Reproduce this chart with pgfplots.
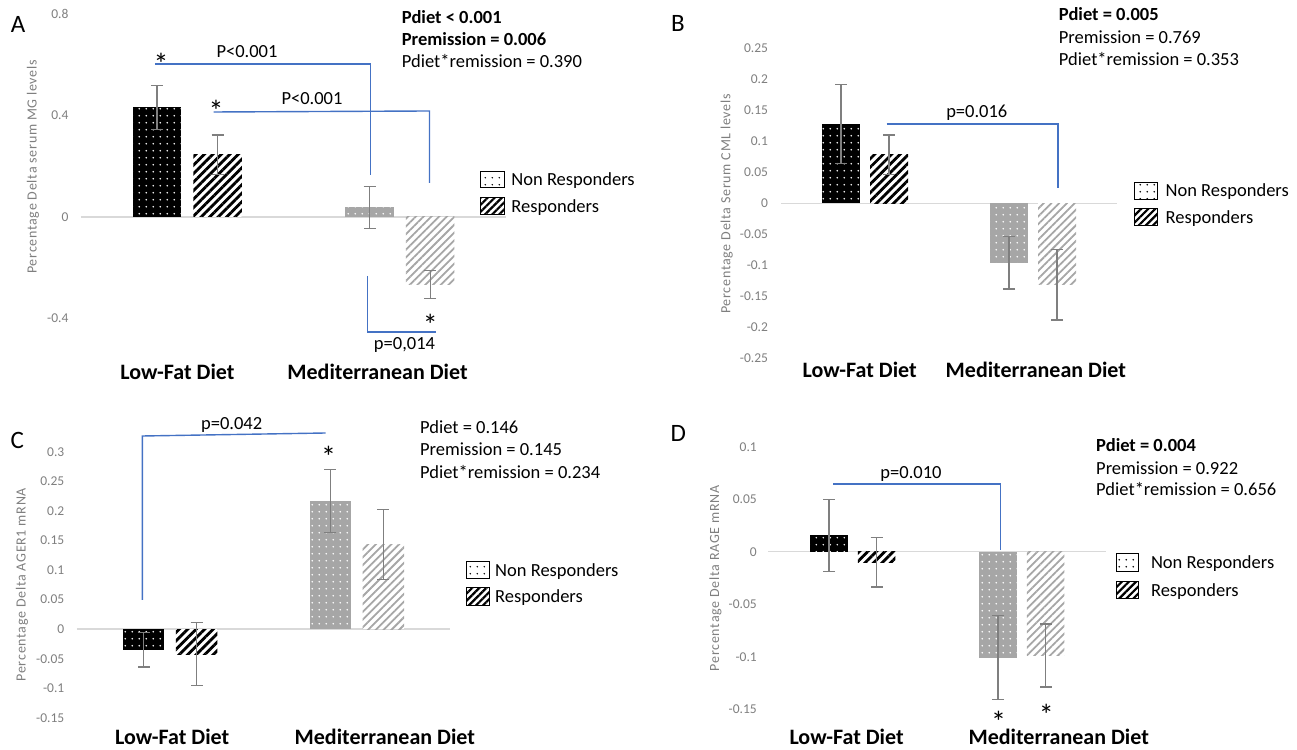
\documentclass[border=0pt]{standalone}
\usepackage{fontspec}
\setmainfont{Carlito}
\newfontfamily\ylabfont[LetterSpace=5]{Carlito}
\usepackage{pgfplots}
\pgfplotsset{compat=1.18}
\usetikzlibrary{patterns.meta}

\definecolor{bblue}{HTML}{4472C4}
\definecolor{bgray}{HTML}{A6A6A6}
\definecolor{tgray}{HTML}{7F7F7F}
\definecolor{zgray}{HTML}{D9D9D9}
\definecolor{egray}{HTML}{7F7F7F}

\tikzdeclarepattern{
  name=sdots,
  type=uncolored,
  bottom left={(0pt,0pt)},
  top right={(7.2pt,7.2pt)},
  tile size={(7.2pt,7.2pt)},
  code={\fill (3.6pt,3.6pt) circle (0.9pt);}
}

\pgfplotsset{
  panel/.style={
    scale only axis, anchor=south west, clip=false,
    axis line style={draw=none}, tick style={draw=none},
    xmin=-0.5, xmax=1.5,
    xticklabels={Low-Fat Diet, Mediterranean Diet},
    xticklabel style={anchor=base, inner sep=0pt, font=\fontsize{22}{24}\selectfont\bfseries},
    scaled y ticks=false,
    yticklabel style={font=\fontsize{13.5}{15}\selectfont, text=tgray,
      /pgf/number format/assume math mode=true,
      /pgf/number format/fixed, /pgf/number format/precision=2},
    ylabel style={font=\ylabfont\fontsize{14}{16}\selectfont, text=tgray, anchor=center},
  },
  eb/.style={
    /pgfplots/error bars/y dir=both,
    /pgfplots/error bars/y explicit,
    /pgfplots/error bars/error bar style={draw=egray, line width=1.3pt},
    /pgfplots/error bars/error mark options={rotate=90, draw=egray, mark size=6pt, line width=1.3pt},
  },
  lfnr/.style={ybar, bar shift=0pt, fill=black, draw=none, postaction={pattern=sdots, pattern color=white}},
  lfr/.style={ybar, bar shift=0pt, fill=white, draw=none, postaction={pattern={Lines[angle=45,distance=6pt,line width=2.8pt]}, pattern color=black}},
  mnr/.style={ybar, bar shift=0pt, fill=bgray, draw=none, postaction={pattern=sdots, pattern color=white}},
  mr/.style={ybar, bar shift=0pt, fill=white, draw=none, postaction={pattern={Lines[angle=45,distance=5.5pt,line width=1.8pt]}, pattern color=bgray}},
  zl/.style={zgray, line width=1.5pt, mark=none},
}

\begin{document}
\begin{tikzpicture}[x=1pt, y=1pt]
\useasboundingbox (0pt,0pt) rectangle (1297pt,749pt);

% ---------------- Panel A ----------------
\begin{axis}[panel, at={(80.9pt,369pt)}, width=425.3pt, height=370pt,
  ymin=-0.6424, ymax=0.8158, ytick={-0.4,0,0.4,0.8},
  xtick={-0.046,0.895},
  yticklabel style={xshift=-9pt},
  ylabel={Percentage Delta serum MG levels},
  ylabel style={at={(rel axis cs:-0.1126,0.576)}}]
\addplot[zl] coordinates {(-0.5,0) (1.5,0)};
\addplot[lfnr, bar width=48.5pt, eb] coordinates {(-0.1425,0.432) +- (0,0.086)};
\addplot[lfr,  bar width=48.5pt, eb] coordinates {(0.1425,0.245) +- (0,0.078)};
\addplot[mnr,  bar width=48.5pt, eb] coordinates {(0.8575,0.038) +- (0,0.083)};
\addplot[mr,   bar width=48.5pt, eb] coordinates {(1.1425,-0.267) +- (0,0.055)};
\end{axis}

% ---------------- Panel B ----------------
\begin{axis}[panel, at={(781pt,371.9pt)}, width=336pt, height=337.1pt,
  ymin=-0.2803, ymax=0.2634,
  ytick={-0.25,-0.2,-0.15,-0.1,-0.05,0,0.05,0.1,0.15,0.2,0.25},
  xtick={-0.032,1.017},
  yticklabel style={xshift=-9.5pt},
  ylabel={Percentage Delta Serum CML levels},
  ylabel style={at={(rel axis cs:-0.1613,0.5135)}}]
\addplot[zl] coordinates {(-0.5,0) (1.5,0)};
\addplot[lfnr, bar width=38pt, eb] coordinates {(-0.1429,0.128) +- (0,0.064)};
\addplot[lfr,  bar width=38pt, eb] coordinates {(0.1429,0.078) +- (0,0.032)};
\addplot[mnr,  bar width=38pt, eb] coordinates {(0.8571,-0.096) +- (0,0.042)};
\addplot[mr,   bar width=38pt, eb] coordinates {(1.1429,-0.131) +- (0,0.057)};
\end{axis}

% ---------------- Panel C ----------------
\begin{axis}[panel, at={(76.8pt,4.9pt)}, width=373.4pt, height=314.1pt,
  ymin=-0.1944, ymax=0.3371,
  ytick={-0.15,-0.1,-0.05,0,0.05,0.1,0.15,0.2,0.25,0.3},
  xtick={0.011,1.150},
  yticklabel style={xshift=-9pt},
  ylabel={Percentage Delta AGER1 mRNA},
  ylabel style={at={(rel axis cs:-0.1468,0.5075)}}]
\addplot[zl] coordinates {(-0.5,0) (1.5,0)};
\addplot[lfnr, bar width=41.5pt, eb] coordinates {(-0.1419,-0.035) +- (0,0.029)};
\addplot[lfr,  bar width=41.5pt, eb] coordinates {(0.1419,-0.042) +- (0,0.053)};
\addplot[mnr,  bar width=41.5pt, eb] coordinates {(0.8581,0.217) +- (0,0.053)};
\addplot[mr,   bar width=41.5pt, eb] coordinates {(1.1419,0.143) +- (0,0.059)};
\end{axis}

% ---------------- Panel D ----------------
\begin{axis}[panel, at={(768.3pt,4.9pt)}, width=338.1pt, height=304.1pt,
  ymin=-0.18324, ymax=0.10638,
  ytick={-0.15,-0.1,-0.05,0,0.05,0.1},
  xtick={-0.037,1.218},
  yticklabel style={xshift=-8pt},
  ylabel={Percentage Delta RAGE mRNA},
  ylabel style={at={(rel axis cs:-0.1562,0.545)}}]
\addplot[zl] coordinates {(-0.5,0) (1.5,0)};
\addplot[lfnr, bar width=37.5pt, eb] coordinates {(-0.1408,0.0155) +- (0,0.0345)};
\addplot[lfr,  bar width=37.5pt, eb] coordinates {(0.1408,-0.0100) +- (0,0.0235)};
\addplot[mnr,  bar width=37.5pt, eb] coordinates {(0.8592,-0.1010) +- (0,0.040)};
\addplot[mr,   bar width=37.5pt, eb] coordinates {(1.1408,-0.0990) +- (0,0.030)};
\end{axis}

% ---------------- Legends (y-up coordinates) ----------------
\tikzset{
  lgnr/.style={draw=black, line width=1pt, fill=white, postaction={pattern=sdots, pattern color=black}},
  lgr/.style={draw=black, line width=1pt, fill=white, postaction={pattern={Lines[angle=45,distance=5pt,line width=2.2pt]}, pattern color=black}},
}
\draw[lgnr] (480.5pt,561pt) rectangle (504.1pt,577pt);
\draw[lgr]  (480.5pt,534pt) rectangle (504.1pt,551pt);
\draw[lgnr] (1134.6pt,549pt) rectangle (1157.5pt,566pt);
\draw[lgr]  (1134.6pt,523pt) rectangle (1157.5pt,540pt);
\draw[lgnr] (466.8pt,170pt) rectangle (489.6pt,187pt);
\draw[lgr]  (466.8pt,143pt) rectangle (489.6pt,161pt);
\draw[lgnr] (1116pt,177pt) rectangle (1138.8pt,195pt);
\draw[lgr]  (1116pt,150pt) rectangle (1138.8pt,167pt);

% ---------------- Annotations (image pixel coordinates, y down) ----------------
\begin{scope}[shift={(0pt,749pt)}, yscale=-1,
  st/.style={anchor=base west, inner sep=0pt, font=\fontsize{18.5}{20}\selectfont},
  stb/.style={anchor=base west, inner sep=0pt, font=\fontsize{18.5}{20}\selectfont\bfseries},
  pt/.style={anchor=base, inner sep=0pt, font=\fontsize{18.5}{20}\selectfont},
  ast/.style={anchor=center, inner sep=0pt, font=\fontsize{30}{32}\selectfont,
              text height=0.8em, text depth=-0.5em},
  plet/.style={anchor=center, inner sep=0pt, font=\fontsize{25}{27}\selectfont},
  brk/.style={draw=bblue, line width=1.4pt}]
% Panel A
\node[plet] at (18,24.5) {A};
\node[stb] at (401.7,23.3) {Pdiet < 0.001};
\node[stb] at (401.7,45.3) {Premission = 0.006};
\node[st]  at (401.7,67.7) {Pdiet*remission = 0.390};
\draw[brk] (154.8,64) -- (370.5,64) -- (370.5,175);
\draw[brk] (213.7,112) -- (429.5,111) -- (429.5,183);
\draw[brk] (367.2,276) -- (367.2,332) -- (435.7,332);
\node[pt] at (247,58) {P<0.001};
\node[pt] at (312,104.3) {P<0.001};
\node[pt] at (404.5,349.3) {p=0,014};
\node[ast] at (161,71) {*};
\node[ast] at (216,118) {*};
\node[ast] at (430.3,332) {*};
\node[st] at (511.2,186) {Non Responders};
\node[st] at (511.2,213) {Responders};
% Panel B
\node[plet] at (678,23) {B};
\node[stb] at (1058.7,21) {Pdiet = 0.005};
\node[st]  at (1058.7,43.3) {Premission = 0.769};
\node[st]  at (1058.7,66) {Pdiet*remission = 0.353};
\draw[brk] (886.5,124) -- (1057.9,124) -- (1057.9,188);
\node[pt] at (976.8,117.7) {p=0.016};
\node[st] at (1165.4,197) {Non Responders};
\node[st] at (1165.4,223.5) {Responders};
% Panel C
\node[plet] at (17.3,440) {C};
\node[st] at (419.9,433.7) {Pdiet = 0.146};
\node[st] at (419.9,456) {Premission = 0.145};
\node[st] at (419.9,478.3) {Pdiet*remission = 0.234};
\draw[brk] (142.3,600) -- (142.3,436) -- (325.7,433);
\node[pt] at (231.7,429.3) {p=0.042};
\node[ast] at (328.6,463.7) {*};
\node[st] at (495,576.5) {Non Responders};
\node[st] at (495,603) {Responders};
% Panel D
\node[plet] at (678.3,433.3) {D};
\node[stb] at (1096,451.7) {Pdiet = 0.004};
\node[st]  at (1096,474.3) {Premission = 0.922};
\node[st]  at (1096,496) {Pdiet*remission = 0.656};
\draw[brk] (833.4,484) -- (1000.6,484) -- (1000.6,550);
\node[pt] at (911,478.7) {p=0.010};
\node[ast] at (998.5,728) {*};
\node[ast] at (1046.3,721.3) {*};
\node[st] at (1150.8,569) {Non Responders};
\node[st] at (1150.8,596.5) {Responders};
\end{scope}
\end{tikzpicture}
\end{document}
